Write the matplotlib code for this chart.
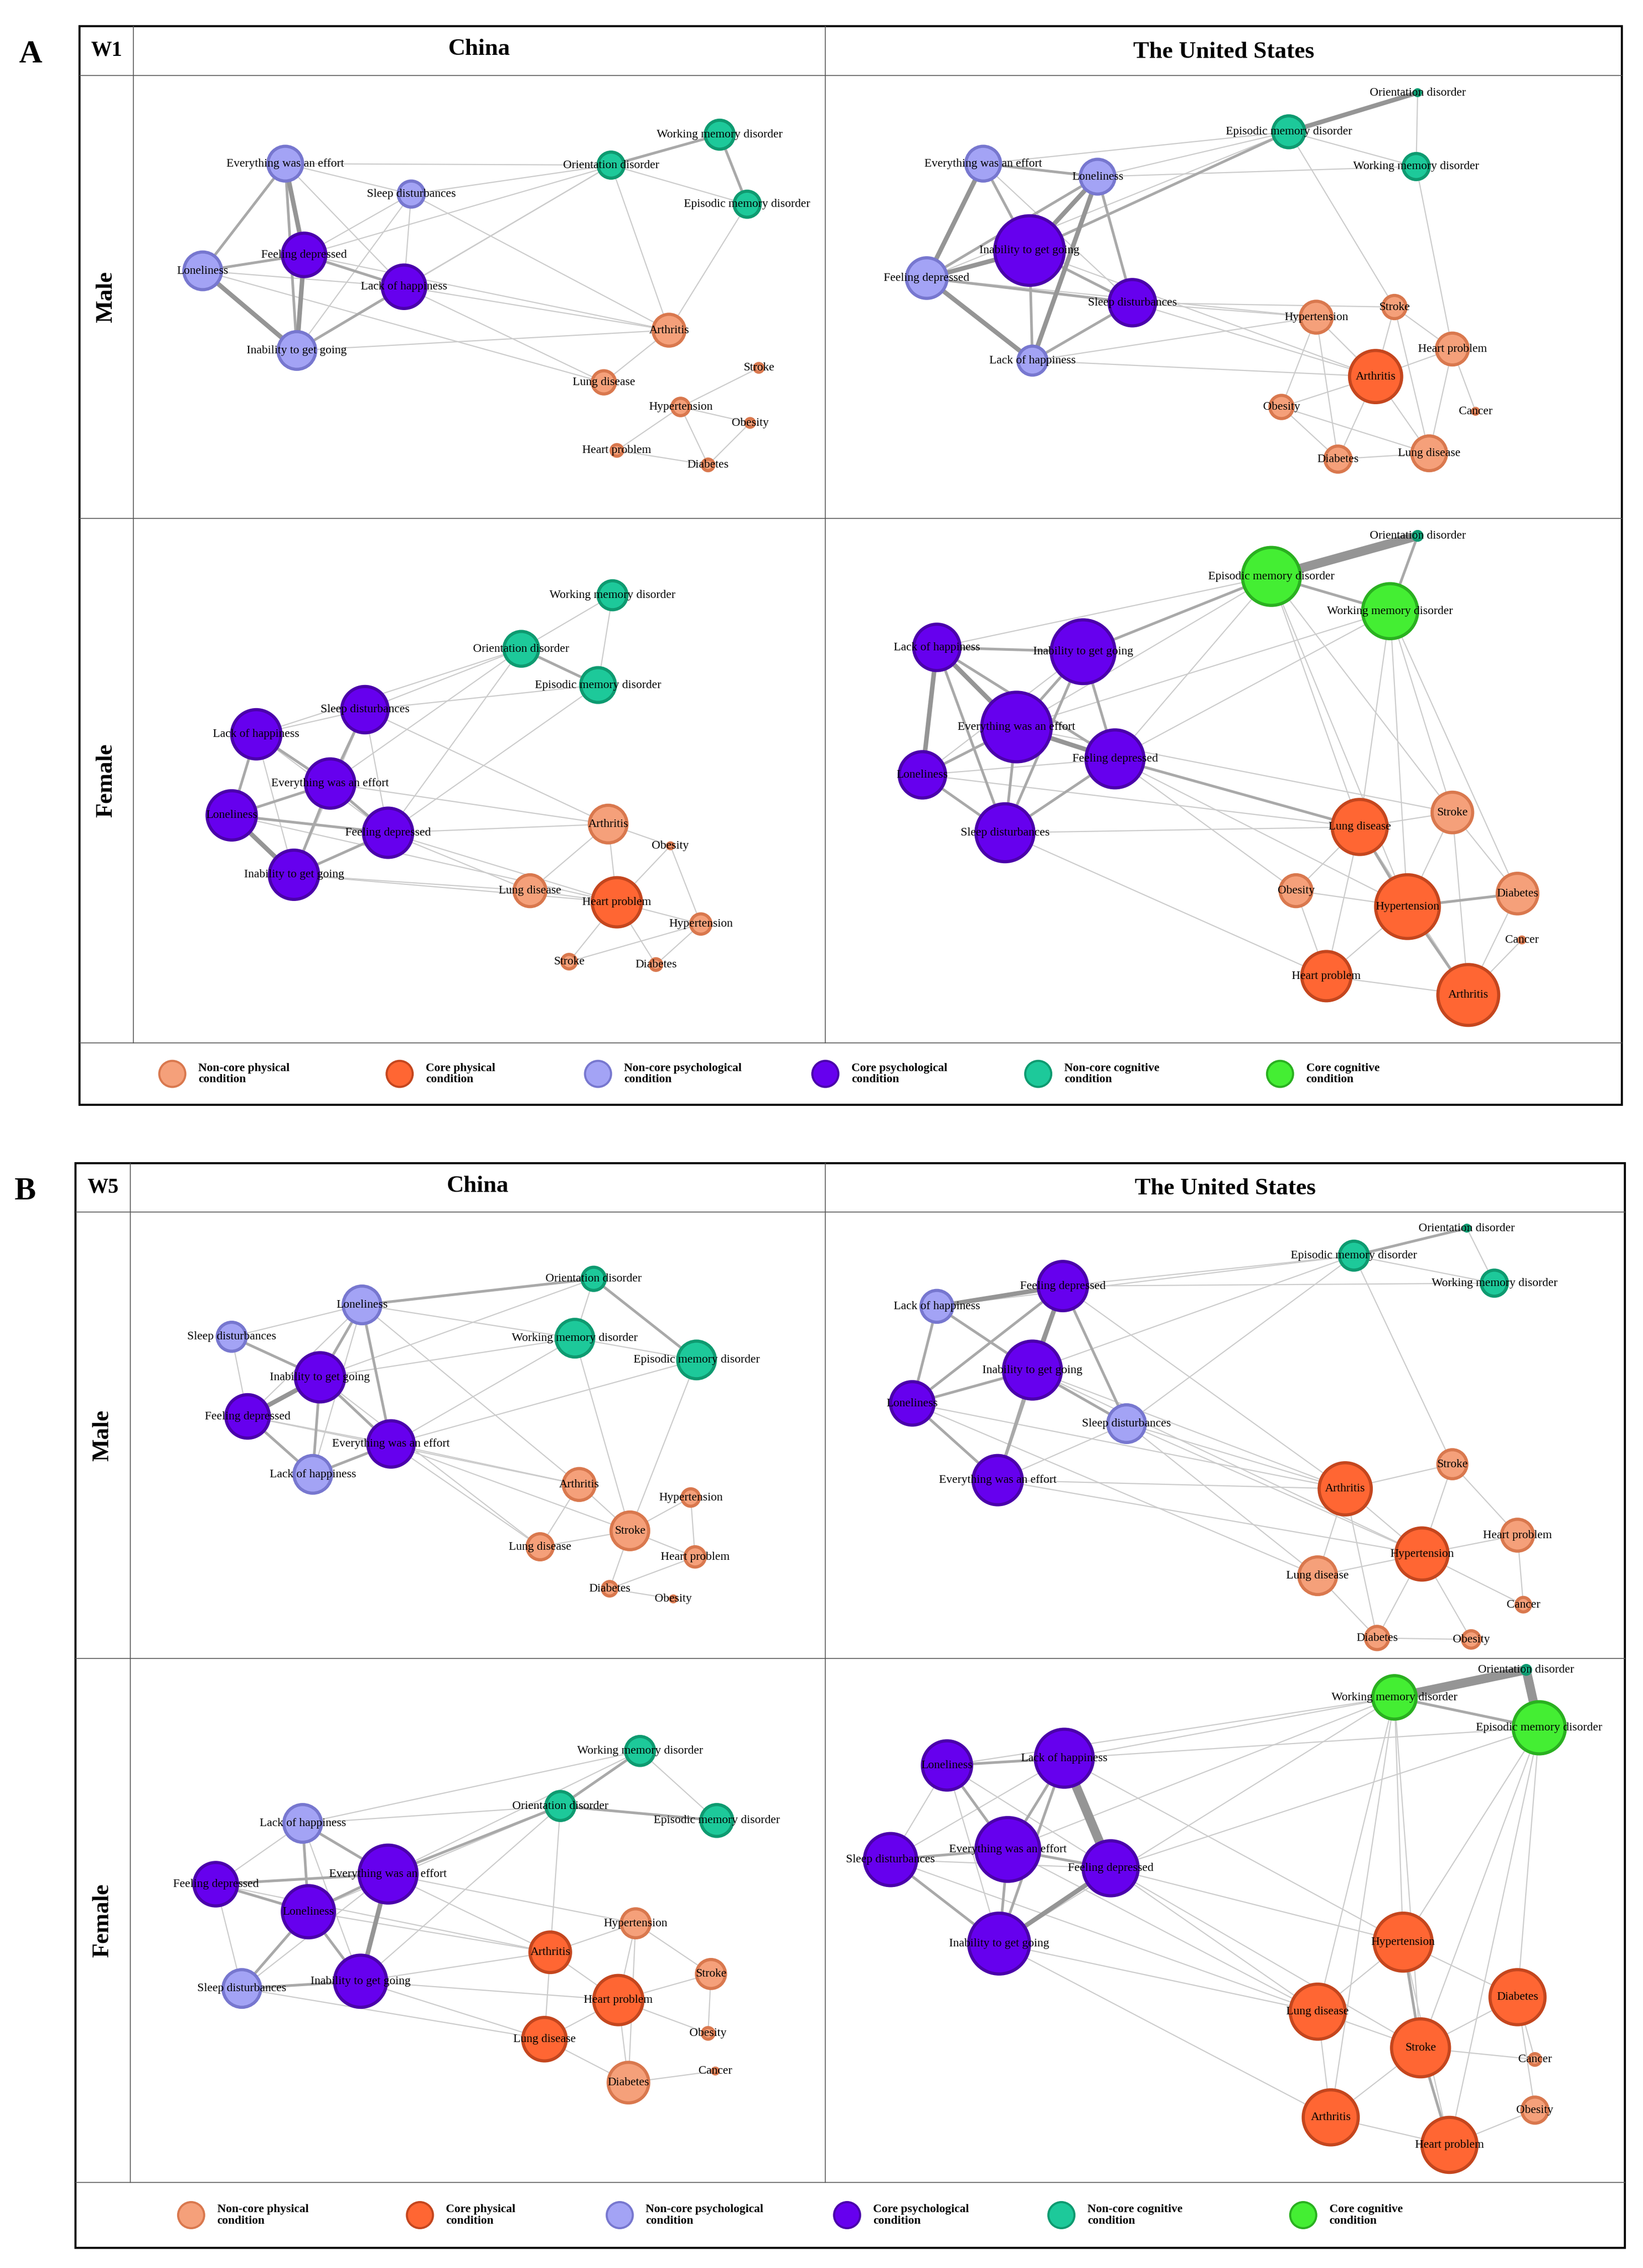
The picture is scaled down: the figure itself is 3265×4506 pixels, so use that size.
import matplotlib
matplotlib.use("Agg")
import matplotlib.pyplot as plt
from matplotlib.patches import Circle, Rectangle

W, H = 1135, 1566
fig = plt.figure(figsize=(32.66, 45.06), dpi=100)
ax = fig.add_axes([0, 0, 1, 1])
ax.set_xlim(0, W); ax.set_ylim(H, 0); ax.axis("off")
SERIF = "Liberation Serif"

NAMES = {"EE": "Everything was an effort", "SD": "Sleep disturbances", "FD": "Feeling depressed",
         "LO": "Loneliness", "LH": "Lack of happiness", "IG": "Inability to get going",
         "WM": "Working memory disorder", "OD": "Orientation disorder", "EM": "Episodic memory disorder",
         "AR": "Arthritis", "LD": "Lung disease", "ST": "Stroke", "HY": "Hypertension",
         "OB": "Obesity", "HP": "Heart problem", "DI": "Diabetes", "CA": "Cancer"}

CAT_STYLE = {"ncphy": ("#F5A07A", "#D9784E"), "cphy": ("#FF6633", "#C4461E"),
             "ncpsy": ("#A3A3F5", "#7777CF"), "cpsy": ("#6600EE", "#4A00AA"),
             "nccog": ("#1DC99A", "#0E9A70"), "ccog": ("#44EE33", "#2AB020")}

# node tables: code, x, y, radius, category
A_male_cn = [("EE",197,113,12,"ncpsy"),("SD",284,134,9,"ncpsy"),("FD",210,176,15,"cpsy"),
 ("LO",140,187,13,"ncpsy"),("LH",279,198,15,"cpsy"),("IG",205,242,13,"ncpsy"),
 ("WM",497,93,10,"nccog"),("OD",422,114,9,"nccog"),("EM",516,141,9,"nccog"),
 ("AR",462,228,11,"ncphy"),("LD",417,264,8,"ncphy"),("ST",524,254,3,"ncphy"),
 ("HY",470,281,6,"ncphy"),("OB",518,292,3,"ncphy"),("HP",426,311,4,"ncphy"),("DI",489,321,4,"ncphy")]
A_male_cn_edges = "EE-LO:2 EE-FD:3 EE-IG:2 EE-SD:1 EE-LH:1 LO-FD:2 LO-IG:3 LO-LH:1 FD-IG:3 FD-LH:2 FD-SD:1 LH-IG:2 LH-SD:1 SD-IG:1 WM-OD:2 WM-EM:2 OD-EM:1 EE-OD:1 LH-OD:1 SD-OD:1 FD-WM:1 IG-OD:1 LH-AR:1 FD-AR:1 SD-AR:1 IG-AR:1 LO-LD:1 LH-LD:1 AR-LD:1 EM-AR:1 HY-OB:1 HY-HP:1 HY-DI:1 ST-HY:1 OB-DI:1 HP-DI:1 OD-AR:1"

A_male_us = [("OD",979,64,2,"nccog"),("EM",890,91,11,"nccog"),("WM",978,115,9,"nccog"),
 ("EE",679,113,12,"ncpsy"),("LO",758,122,12,"ncpsy"),("IG",711,173,24,"cpsy"),
 ("FD",640,192,14,"ncpsy"),("SD",782,209,16,"cpsy"),("LH",713,249,10,"ncpsy"),
 ("ST",963,212,8,"ncphy"),("HY",909,219,11,"ncphy"),("HP",1003,241,11,"ncphy"),
 ("AR",950,260,18,"cphy"),("CA",1019,284,2,"ncphy"),("OB",885,281,8,"ncphy"),
 ("LD",987,313,12,"ncphy"),("DI",924,317,9,"ncphy")]
A_male_us_edges = "IG-FD:3 IG-EE:2 IG-LO:3 IG-SD:2 IG-LH:2 FD-EE:3 FD-LH:3 FD-LO:2 FD-SD:2 EE-LO:2 LO-LH:3 LO-SD:2 SD-LH:2 EE-SD:1 EM-OD:3 EM-WM:1 WM-OD:1 FD-EM:1 IG-EM:2 LO-EM:1 LO-WM:1 EE-EM:1 SD-AR:1 SD-HY:1 SD-ST:1 IG-AR:1 LH-AR:1 LH-HY:1 FD-HY:1 HY-AR:1 HY-OB:1 HY-DI:1 ST-AR:1 ST-HP:1 ST-LD:1 AR-HP:1 AR-OB:1 AR-LD:1 AR-DI:1 HP-LD:1 HP-CA:1 OB-DI:1 OB-LD:1 DI-LD:1 EM-ST:1 WM-HP:1"

A_fem_cn = [("WM",423,411,10,"nccog"),("OD",360,448,12,"nccog"),("EM",413,473,12,"nccog"),
 ("SD",252,490,16,"cpsy"),("LH",177,507,17,"cpsy"),("EE",228,541,17,"cpsy"),
 ("LO",160,563,17,"cpsy"),("FD",268,575,17,"cpsy"),("IG",203,604,17,"cpsy"),
 ("AR",420,569,13,"ncphy"),("OB",463,584,2,"ncphy"),("LD",366,615,11,"ncphy"),
 ("HP",426,623,17,"cphy"),("HY",484,638,7,"ncphy"),("ST",393,664,5,"ncphy"),("DI",453,666,4,"ncphy")]
A_fem_cn_edges = "LH-EE:2 LH-LO:2 LH-IG:1 LH-SD:1 LH-FD:1 EE-LO:2 EE-FD:2 EE-IG:2 EE-SD:2 LO-IG:3 LO-FD:2 FD-IG:2 SD-FD:1 SD-IG:1 WM-OD:1 WM-EM:1 OD-EM:2 OD-SD:1 OD-EE:1 OD-FD:1 OD-LH:1 EM-FD:1 EM-SD:1 SD-AR:1 EE-AR:1 FD-AR:1 FD-LD:1 IG-LD:1 LO-HP:1 FD-HP:1 IG-HP:1 AR-HP:1 AR-LD:1 LD-HP:1 HP-HY:1 HP-ST:1 HP-DI:1 OB-HY:1 OB-HP:1 HY-ST:1 HY-DI:1 AR-OB:1"

A_fem_us = [("OD",979,370,3,"nccog"),("EM",878,398,20,"ccog"),("WM",960,422,19,"ccog"),
 ("LH",647,447,16,"cpsy"),("IG",748,450,22,"cpsy"),("EE",702,502,24,"cpsy"),
 ("LO",637,535,16,"cpsy"),("FD",770,524,20,"cpsy"),("SD",694,575,20,"cpsy"),
 ("LD",939,571,19,"cphy"),("ST",1003,561,14,"ncphy"),("OB",895,615,11,"ncphy"),
 ("HY",972,626,22,"cphy"),("DI",1048,617,14,"ncphy"),("CA",1051,649,2,"ncphy"),
 ("HP",916,674,17,"cphy"),("AR",1014,687,21,"cphy")]
A_fem_us_edges = "EM-OD:4 WM-OD:2 EM-WM:2 LH-IG:2 LH-EE:3 LH-LO:3 LH-FD:2 LH-SD:2 IG-EE:2 IG-FD:2 IG-LO:1 IG-SD:2 EE-LO:2 EE-FD:3 EE-SD:2 LO-SD:2 LO-FD:1 FD-SD:2 LH-EM:1 IG-EM:2 EE-EM:1 FD-EM:1 FD-WM:1 EE-WM:1 EM-LD:1 EM-ST:1 WM-ST:1 WM-HY:1 WM-DI:1 WM-LD:1 EM-HY:1 FD-LD:2 SD-LD:1 FD-HY:1 SD-HP:1 LO-LD:1 FD-OB:1 EE-ST:1 LD-HY:2 LD-ST:1 LD-OB:1 LD-HP:1 LD-AR:1 ST-HY:1 ST-DI:1 HY-DI:2 HY-AR:2 HY-HP:1 HY-OB:1 HP-AR:1 DI-AR:1 CA-AR:1 OB-HP:1 ST-AR:1"

B_male_cn = [("OD",410,883,8,"nccog"),("LO",250,901,13,"ncpsy"),("SD",160,923,10,"ncpsy"),
 ("WM",397,924,13,"nccog"),("EM",481,939,13,"nccog"),("IG",221,951,17,"cpsy"),
 ("FD",171,978,15,"cpsy"),("EE",270,997,16,"cpsy"),("LH",216,1018,13,"ncpsy"),
 ("AR",400,1025,11,"ncphy"),("HY",477,1034,6,"ncphy"),("ST",435,1057,13,"ncphy"),
 ("LD",373,1068,9,"ncphy"),("HP",480,1075,7,"ncphy"),("DI",421,1097,5,"ncphy"),("OB",465,1104,2,"ncphy")]
B_male_cn_edges = "LO-IG:2 LO-SD:1 LO-FD:1 LO-EE:2 LO-LH:1 SD-IG:2 SD-FD:1 IG-FD:3 IG-EE:2 IG-LH:2 FD-EE:1 FD-LH:2 EE-LH:2 OD-WM:1 OD-EM:2 WM-EM:1 LO-OD:2 LO-WM:1 IG-WM:1 EE-WM:1 IG-OD:1 EE-EM:1 LO-AR:1 EE-AR:1 EE-ST:1 EE-LD:1 FD-AR:1 IG-LD:1 AR-ST:1 AR-LD:1 ST-HY:1 ST-HP:1 ST-DI:1 ST-LD:1 HY-HP:1 HP-DI:1 DI-OB:1 WM-ST:1 EM-ST:1"

B_male_us = [("OD",1013,848,2,"nccog"),("EM",935,867,10,"nccog"),("WM",1032,886,9,"nccog"),
 ("FD",734,888,17,"cpsy"),("LH",647,902,11,"ncpsy"),("IG",713,946,20,"cpsy"),
 ("LO",630,969,15,"cpsy"),("SD",778,983,13,"ncpsy"),("EE",689,1022,17,"cpsy"),
 ("ST",1003,1011,10,"ncphy"),("AR",929,1028,18,"cphy"),("HP",1048,1060,11,"ncphy"),
 ("HY",982,1073,18,"cphy"),("LD",910,1088,13,"ncphy"),("CA",1052,1108,5,"ncphy"),
 ("DI",951,1131,8,"ncphy"),("OB",1016,1132,6,"ncphy")]
B_male_us_edges = "FD-LH:3 FD-IG:3 FD-LO:2 FD-EE:2 FD-SD:2 LH-IG:2 LH-LO:2 IG-LO:2 IG-EE:2 IG-SD:2 LO-EE:2 EE-SD:1 EM-OD:2 EM-WM:1 WM-OD:1 FD-EM:1 LH-EM:1 IG-EM:1 SD-EM:1 FD-WM:1 FD-AR:1 IG-AR:1 IG-HY:1 SD-AR:1 SD-HY:1 SD-LD:1 LO-AR:1 LO-LD:1 EE-AR:1 EE-HY:1 EM-ST:1 AR-HY:1 AR-LD:1 AR-ST:1 AR-DI:1 HY-ST:1 HY-HP:1 HY-LD:1 HY-OB:1 HY-CA:1 HY-DI:1 ST-HP:1 LD-DI:1 DI-OB:1 HP-CA:1"

B_fem_cn = [("WM",442,1209,10,"nccog"),("OD",387,1247,10,"nccog"),("EM",495,1257,11,"nccog"),
 ("LH",209,1259,13,"ncpsy"),("EE",268,1294,20,"cpsy"),("FD",149,1301,15,"cpsy"),
 ("LO",213,1320,18,"cpsy"),("SD",167,1373,13,"ncpsy"),("IG",249,1368,18,"cpsy"),
 ("HY",439,1328,10,"ncphy"),("AR",380,1348,14,"cphy"),("ST",491,1363,10,"ncphy"),
 ("HP",427,1381,17,"cphy"),("OB",489,1404,4,"ncphy"),("LD",376,1408,15,"cphy"),
 ("CA",494,1430,2,"ncphy"),("DI",434,1438,14,"ncphy")]
B_fem_cn_edges = "LH-EE:2 LH-FD:1 LH-LO:2 LH-IG:1 EE-FD:2 EE-LO:2 EE-IG:3 EE-SD:1 FD-LO:2 FD-SD:1 LO-SD:2 LO-IG:2 SD-IG:2 WM-OD:2 WM-EM:1 OD-EM:2 LH-OD:1 EE-OD:2 EE-WM:1 LO-OD:1 IG-OD:1 LH-WM:1 EE-AR:1 IG-AR:1 IG-HP:1 IG-LD:1 LO-AR:1 FD-AR:1 SD-LD:1 EE-HY:1 OD-AR:1 AR-HP:1 AR-LD:1 AR-HY:1 HY-ST:1 HY-HP:1 HP-LD:1 HP-DI:1 HP-ST:1 LD-DI:1 OB-HP:1 DI-CA:1 ST-OB:1 HY-DI:1"

B_fem_us = [("OD",1054,1153,3,"nccog"),("WM",963,1172,15,"ccog"),("EM",1063,1193,18,"ccog"),
 ("LO",654,1219,17,"cpsy"),("LH",735,1214,20,"cpsy"),("EE",696,1277,22,"cpsy"),
 ("FD",767,1290,19,"cpsy"),("SD",615,1284,18,"cpsy"),("IG",690,1342,21,"cpsy"),
 ("HY",969,1341,20,"cphy"),("LD",910,1389,19,"cphy"),("DI",1048,1379,19,"cphy"),
 ("ST",981,1414,20,"cphy"),("CA",1060,1422,4,"ncphy"),("OB",1060,1457,9,"ncphy"),
 ("AR",919,1462,19,"cphy"),("HP",1001,1481,19,"cphy")]
B_fem_us_edges = "OD-WM:4 OD-EM:4 WM-EM:2 LO-LH:2 LO-EE:2 LO-SD:1 LO-IG:1 LO-FD:1 LH-EE:2 LH-FD:4 LH-IG:2 LH-SD:1 EE-FD:2 EE-SD:2 EE-IG:2 FD-IG:3 FD-SD:1 SD-IG:2 LH-WM:1 LH-EM:1 EE-WM:1 FD-EM:1 IG-WM:1 LO-WM:1 WM-HY:1 WM-LD:1 WM-AR:1 WM-ST:1 EM-DI:1 EM-ST:1 EM-HY:1 EM-HP:1 FD-HY:1 FD-LD:1 FD-ST:1 EE-LD:1 IG-LD:1 IG-AR:1 LH-HY:1 SD-LD:1 HY-LD:1 HY-ST:2 HY-DI:1 LD-ST:1 LD-AR:1 ST-HP:2 ST-DI:1 ST-AR:1 DI-CA:1 DI-OB:1 AR-HP:1 HP-OB:1 ST-CA:1 HY-HP:1"

EDGE_LW = {1: 1.6, 2: 3.8, 3: 6.5, 4: 13}
EDGE_COL = {1: "#cbcbcb", 2: "#a9a9a9", 3: "#959595", 4: "#959595"}

def draw_net(nodes, edges):
    pos = {c: (x, y) for c, x, y, r, k in nodes}
    for tok in edges.split():
        pair, w = tok.split(":"); a, b = pair.split("-"); w = int(w)
        ax.plot([pos[a][0], pos[b][0]], [pos[a][1], pos[b][1]], color=EDGE_COL[w],
                lw=EDGE_LW[w], solid_capstyle="round", zorder=2 + w * 0.1)
    for c, x, y, r, k in nodes:
        fc, ec = CAT_STYLE[k]
        ax.add_patch(Circle((x, y), r, facecolor=fc, edgecolor=ec, lw=4.5, zorder=5))
    for c, x, y, r, k in nodes:
        ax.text(x, y, NAMES[c], ha="center", va="center", fontsize=17, family=SERIF, zorder=6)

def frame(x0, y0, x1, y1, ysplit, ylegend, xsplit, xlab, wave, letter, legx):
    ax.add_patch(Rectangle((x0, y0), x1 - x0, y1 - y0, fill=False, lw=3, ec="black", zorder=1))
    hy = y0 + 34
    for yy, lw in [(hy, 1.2), (ysplit, 1.2), (ylegend, 1.2)]:
        ax.plot([x0, x1], [yy, yy], color="#555555", lw=lw, zorder=1)
    ax.plot([xsplit, xsplit], [y0, ylegend], color="#555555", lw=1.2, zorder=1)
    ax.plot([xlab, xlab], [y0, ylegend], color="#555555", lw=1.2, zorder=1)
    ax.text((x0 + xlab) / 2, hy - 17, wave, ha="center", va="center", fontsize=30, weight="bold", family=SERIF)
    ax.text((xlab + xsplit) / 2, hy - 18, "China", ha="center", va="center", fontsize=34, weight="bold", family=SERIF)
    ax.text((xsplit + x1) / 2, hy - 16, "The United States", ha="center", va="center", fontsize=34, weight="bold", family=SERIF)
    ax.text((x0 + xlab) / 2, (hy + ysplit) / 2, "Male", rotation=90, ha="center", va="center", fontsize=34, weight="bold", family=SERIF)
    ax.text((x0 + xlab) / 2, (ysplit + ylegend) / 2, "Female", rotation=90, ha="center", va="center", fontsize=34, weight="bold", family=SERIF)
    ax.text(x0 - 42, y0 + 20, letter, ha="left", va="center", fontsize=46, weight="bold", family=SERIF)
    ly = (ylegend + y1) / 2
    for (lab, k), lx in zip(LEGEND, legx):
        fc, ec = CAT_STYLE[k]
        ax.add_patch(Circle((lx, ly), 9, facecolor=fc, edgecolor=ec, lw=3, zorder=5))
        ax.text(lx + 18, ly, lab, ha="left", va="center", fontsize=17, weight="bold", family=SERIF, linespacing=1.1)

LEGEND = [("Non-core physical\ncondition", "ncphy"), ("Core physical\ncondition", "cphy"),
          ("Non-core psychological\ncondition", "ncpsy"), ("Core psychological\ncondition", "cpsy"),
          ("Non-core cognitive\ncondition", "nccog"), ("Core cognitive\ncondition", "ccog")]

frame(55, 18, 1120, 763, 358, 720, 570, 92, "W1", "A", [119, 276, 413, 570, 717, 884])
frame(52, 803, 1122, 1552, 1145, 1507, 570, 90, "W5", "B", [132, 290, 428, 585, 733, 900])

for n, e in [(A_male_cn, A_male_cn_edges), (A_male_us, A_male_us_edges), (A_fem_cn, A_fem_cn_edges),
             (A_fem_us, A_fem_us_edges), (B_male_cn, B_male_cn_edges), (B_male_us, B_male_us_edges),
             (B_fem_cn, B_fem_cn_edges), (B_fem_us, B_fem_us_edges)]:
    draw_net(n, e)

fig.savefig("out.png", dpi=100, facecolor="white")
